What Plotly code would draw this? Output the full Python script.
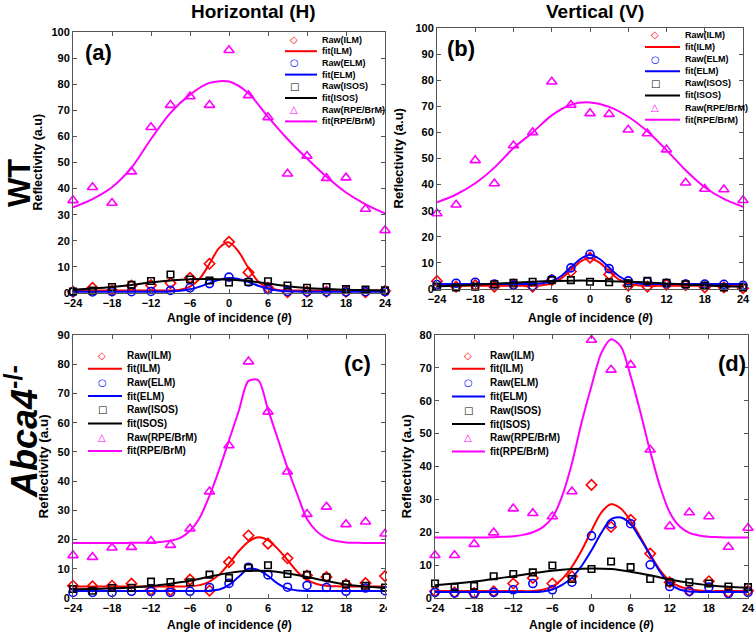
import plotly.graph_objects as go

W, H = 755, 633

# ---------------- data ----------------
ANGLES = [-24, -21, -18, -15, -12, -9, -6, -3, 0, 3, 6, 9, 12, 15, 18, 21, 24]
FINE_ANGLES = [-24, -22.5, -21, -19.5, -18, -16.5, -15, -13.5, -12, -10.5, -9, -7.5, -6, -4.5,
               -3, -1.5, 0, 1.5, 3, 4.5, 6, 7.5, 9, 10.5, 12, 13.5, 15, 16.5, 18, 19.5, 21, 22.5, 24]
X_TICKS = [-24, -18, -12, -6, 0, 6, 12, 18, 24]
LEGEND_LABELS = ["Raw(ILM)", "fit(ILM)", "Raw(ELM)", "fit(ELM)",
                 "Raw(ISOS)", "fit(ISOS)", "Raw(RPE/BrM)", "fit(RPE/BrM)"]

# (a) WT, Horizontal
A_RAW_ILM = [0.5, 2.0, 1.0, 2.8, 3.0, 3.8, 5.8, 11.2, 19.6, 7.9, 2.0, 0.3, 0.5, 0.5, 0.5, 0.3, 0.8]
A_RAW_ELM = [0.4, 0.4, 0.5, 0.5, 0.6, 1.0, 2.0, 3.6, 6.1, 4.2, 1.3, 0.6, 0.4, 0.4, 0.4, 0.5, 0.5]
A_RAW_ISOS = [0.6, 0.9, 2.3, 3.1, 4.6, 7.1, 5.2, 4.8, 4.0, 4.2, 4.5, 2.9, 2.0, 2.3, 1.5, 1.3, 1.0]
A_RAW_RPE = [35.5, 40.5, 34.5, 46.5, 63.5, 72.0, 75.3, 72.0, 93.0, 75.7, 67.3, 45.7, 52.5, 44.0, 44.2, 32.2, 24.0]
A_FIT_ILM = [1.0, 1.0, 1.0, 1.0, 1.0, 1.0, 1.0, 1.0, 1.0, 1.0, 1.0, 1.3, 2.4, 5.5, 11.2, 17.3, 19.4,
             15.8, 9.5, 4.4, 2.0, 1.2, 1.0, 1.0, 1.0, 1.0, 1.0, 1.0, 1.0, 1.0, 1.0, 1.0, 1.0]
A_FIT_ELM = [0.5, 0.5, 0.5, 0.5, 0.5, 0.5, 0.5, 0.5, 0.5, 0.5, 0.62, 0.87, 1.4, 2.45, 3.8, 5.08, 5.7,
             5.33, 4.2, 2.79, 1.66, 0.99, 0.67, 0.55, 0.5, 0.5, 0.5, 0.5, 0.5, 0.5, 0.5, 0.5, 0.5]
A_FIT_ISOS = [1.2, 1.7, 2.3, 3.1, 4.1, 4.8, 5.3, 5.4, 5.1, 4.6, 3.6, 2.6, 1.9, 1.5, 1.2, 1.1, 1.0]
A_FIT_RPE = [32.8, 36.0, 40.5, 48.0, 59.0, 69.0, 76.0, 80.5, 81.0, 76.5, 67.5, 59.0, 51.5, 44.5, 38.5, 34.0, 30.5]

# (b) WT, Vertical
B_RAW_ILM = [3.0, 0.9, 1.5, 0.9, 1.8, 0.9, 3.4, 6.7, 12.0, 5.6, 1.3, 0.9, 1.7, 1.5, 0.6, 0.6, 0.3]
B_RAW_ELM = [1.7, 2.2, 2.6, 1.9, 1.5, 1.2, 3.7, 8.1, 13.3, 7.8, 3.1, 2.8, 2.2, 1.9, 1.9, 1.8, 1.4]
B_RAW_ISOS = [0.9, 0.6, 0.9, 1.8, 2.4, 2.8, 3.4, 3.4, 2.8, 2.6, 2.2, 3.1, 2.4, 1.8, 1.3, 0.6, 0.6]
B_RAW_RPE = [28.9, 32.3, 49.3, 40.4, 55.0, 60.0, 79.4, 70.5, 67.3, 67.0, 61.0, 59.6, 53.4, 40.7, 38.3, 38.1, 34.0]
B_FIT_ILM = [1.2, 1.2, 1.2, 1.2, 1.2, 1.2, 1.2, 1.2, 1.2, 1.2, 1.2, 1.47, 2.2, 4.1, 7.2, 10.5, 11.8,
             10.1, 6.8, 3.7, 2.1, 1.4, 1.2, 1.2, 1.2, 1.2, 1.2, 1.2, 1.2, 1.2, 1.2, 1.2, 1.2]
B_FIT_ELM = [1.9, 1.9, 1.9, 1.9, 1.9, 1.9, 1.9, 1.9, 1.9, 1.9, 1.9, 2.2, 3.05, 5.0, 8.2, 11.5, 13.0,
             11.5, 8.2, 5.0, 3.05, 2.2, 1.9, 1.9, 1.9, 1.9, 1.9, 1.9, 1.9, 1.9, 1.9, 1.9, 1.9]
B_FIT_ISOS = [1.0, 1.3, 1.6, 2.0, 2.4, 2.8, 3.1, 3.2, 3.2, 3.0, 2.8, 2.5, 2.1, 1.7, 1.4, 1.1, 0.9]
B_FIT_RPE = [33.2, 36.2, 40.5, 46.5, 54.0, 60.0, 66.5, 70.6, 71.5, 69.8, 66.0, 60.4, 53.2, 45.5, 39.0, 34.5, 31.5]

# (c) Abca4-/-, Horizontal
C_RAW_ILM = [4.2, 4.0, 4.2, 4.9, 2.8, 2.6, 6.3, 2.5, 12.3, 21.4, 18.6, 13.6, 7.7, 7.2, 4.7, 5.1, 7.5]
C_RAW_ELM = [1.9, 1.9, 1.9, 2.3, 2.2, 1.9, 2.3, 3.6, 5.0, 10.5, 7.9, 3.7, 4.3, 3.6, 2.3, 3.4, 2.5]
C_RAW_ISOS = [3.1, 2.5, 3.4, 3.5, 5.6, 5.5, 5.4, 8.0, 6.9, 10.3, 11.2, 8.2, 7.9, 7.1, 4.7, 4.2, 3.6]
C_RAW_RPE = [14.6, 14.0, 17.2, 17.4, 19.5, 18.1, 23.7, 36.4, 52.2, 80.9, 63.7, 43.2, 28.7, 31.2, 25.2, 26.1, 22.0]
C_FIT_ILM = [3.9, 3.9, 3.9, 3.9, 3.9, 3.9, 3.9, 3.9, 3.9, 3.9, 3.9, 3.95, 4.05, 4.4, 5.6, 8.0, 11.8,
             16.0, 19.3, 20.8, 19.8, 16.8, 13.0, 9.0, 6.2, 4.8, 4.2, 4.0, 3.9, 3.9, 3.9, 3.9, 3.9]
C_FIT_ELM = [2.4, 2.4, 2.4, 2.4, 2.4, 2.4, 2.4, 2.4, 2.4, 2.4, 2.4, 2.4, 2.4, 2.4, 2.5, 2.9, 4.5,
             7.3, 10.0, 9.6, 7.6, 4.9, 3.2, 2.6, 2.4, 2.4, 2.4, 2.4, 2.4, 2.4, 2.4, 2.4, 2.4]
C_FIT_ISOS = [3.0, 3.1, 3.3, 3.6, 4.1, 4.9, 5.9, 7.3, 8.6, 9.3, 9.2, 8.4, 7.2, 5.8, 4.6, 3.9, 3.4]
C_FIT_RPE = [18.8, 18.8, 18.8, 18.8, 18.8, 18.8, 18.9, 18.9, 19.0, 19.2, 19.6, 20.6, 23.0, 27.5, 35.0, 44.0, 54.0,
             64.0, 74.3, 74.5, 64.5, 54.5, 44.5, 35.5, 27.0, 22.8, 20.5, 19.5, 19.0, 18.9, 18.8, 18.8, 18.8]

# (d) Abca4-/-, Vertical
D_RAW_ILM = [2.0, 1.7, 1.5, 2.0, 4.4, 6.1, 4.4, 6.6, 34.4, 21.6, 23.8, 13.5, 4.8, 2.2, 5.1, 1.7, 2.2]
D_RAW_ELM = [1.7, 1.5, 1.2, 1.7, 2.5, 4.4, 2.5, 4.8, 18.9, 22.5, 22.6, 10.1, 3.5, 2.0, 3.3, 1.3, 1.7]
D_RAW_ISOS = [4.4, 3.3, 3.7, 6.6, 7.3, 7.8, 9.9, 5.8, 8.8, 11.1, 9.4, 5.8, 4.8, 4.8, 4.4, 3.5, 3.3]
D_RAW_RPE = [13.0, 13.0, 16.4, 19.9, 27.2, 25.8, 24.8, 32.4, 78.5, 69.4, 70.9, 45.1, 21.8, 26.0, 24.8, 15.5, 21.3]
D_FIT_ILM = [2.1, 2.1, 2.1, 2.1, 2.1, 2.1, 2.1, 2.1, 2.1, 2.1, 2.1, 2.5, 3.5, 5.8, 9.5, 14.5, 20.5,
             26.0, 28.5, 27.2, 23.5, 18.5, 13.2, 8.5, 5.2, 3.5, 2.7, 2.3, 2.1, 2.1, 2.1, 2.1, 2.1]
D_FIT_ELM = [1.8, 1.8, 1.8, 1.8, 1.8, 1.8, 1.8, 1.8, 1.8, 1.8, 1.8, 2.0, 2.6, 4.0, 6.2, 9.8, 14.5,
             19.8, 24.0, 24.5, 22.5, 18.0, 13.0, 8.0, 4.3, 2.6, 2.0, 1.85, 1.8, 1.8, 1.8, 1.8, 1.8]
D_FIT_ISOS = [3.9, 4.4, 5.0, 5.8, 6.6, 7.5, 8.3, 8.8, 9.0, 8.8, 8.0, 6.9, 5.6, 4.6, 3.9, 3.4, 3.1]
D_FIT_RPE = [18.4, 18.4, 18.4, 18.4, 18.4, 18.4, 18.5, 18.6, 18.8, 19.2, 20.0, 21.5, 24.5, 31.0, 41.0, 53.5, 64.5,
             74.5, 78.7, 76.5, 67.5, 56.5, 44.6, 34.0, 26.0, 21.8, 19.8, 19.0, 18.6, 18.5, 18.4, 18.4, 18.4]

# ---------------- styling ----------------
RED, BLUE, BLACK, MAG = "#ff0000", "#0000ff", "#000000", "#ff00ff"
AX = "#555555"
FONT = "Liberation Sans, Arial, sans-serif"


def fx(p):
    return p / W


def fy(p):
    return 1 - p / H


panels = [
    dict(x0=73, x1=385, y0=32, y1=293, ymax=100,
         raw=[A_RAW_ILM, A_RAW_ELM, A_RAW_ISOS, A_RAW_RPE],
         fit=[(FINE_ANGLES, A_FIT_ILM), (FINE_ANGLES, A_FIT_ELM), (ANGLES, A_FIT_ISOS), (ANGLES, A_FIT_RPE)],
         tag="(a)", tagpos=(99, 52),
         leg=dict(mx=294, lx0=285, lx1=317, tx=320, y0=39.5, dy=11.7, fs=9),
         ytitle_x=37, xtitle_y=318, ytf=12.5),
    dict(x0=437, x1=743, y0=28, y1=289, ymax=100,
         raw=[B_RAW_ILM, B_RAW_ELM, B_RAW_ISOS, B_RAW_RPE],
         fit=[(FINE_ANGLES, B_FIT_ILM), (FINE_ANGLES, B_FIT_ELM), (ANGLES, B_FIT_ISOS), (ANGLES, B_FIT_RPE)],
         tag="(b)", tagpos=(461, 48),
         leg=dict(mx=655, lx0=645, lx1=680, tx=683, y0=35, dy=12.1, fs=9),
         ytitle_x=398, xtitle_y=318, ytf=13),
    dict(x0=73, x1=385, y0=335, y1=598, ymax=90,
         raw=[C_RAW_ILM, C_RAW_ELM, C_RAW_ISOS, C_RAW_RPE],
         fit=[(FINE_ANGLES, C_FIT_ILM), (FINE_ANGLES, C_FIT_ELM), (ANGLES, C_FIT_ISOS), (FINE_ANGLES, C_FIT_RPE)],
         tag="(c)", tagpos=(357, 363),
         leg=dict(mx=102, lx0=88, lx1=122, tx=125, y0=355, dy=13.7, fs=10),
         ytitle_x=43, xtitle_y=625, ytf=13.5),
    dict(x0=435, x1=748, y0=335, y1=598, ymax=80,
         raw=[D_RAW_ILM, D_RAW_ELM, D_RAW_ISOS, D_RAW_RPE],
         fit=[(FINE_ANGLES, D_FIT_ILM), (FINE_ANGLES, D_FIT_ELM), (ANGLES, D_FIT_ISOS), (FINE_ANGLES, D_FIT_RPE)],
         tag="(d)", tagpos=(732, 363),
         leg=dict(mx=468, lx0=452, lx1=485, tx=488, y0=355, dy=13.8, fs=10),
         ytitle_x=406, xtitle_y=625, ytf=13.5),
]

COLORS = [RED, BLUE, BLACK, MAG]
SYMBOLS = ["diamond-open", "circle-open", "square-open", "triangle-up-open"]
SIZES = [8, 8, 6.5, 9]
GLYPHS = ["\u25C7", "\u25CB", "\u25A1", "\u25B3"]

fig = go.Figure()
layout = dict(width=W, height=H, margin=dict(l=0, r=0, t=0, b=0, autoexpand=False),
              paper_bgcolor="white", plot_bgcolor="white", showlegend=False)
annotations = []
shapes = []

tickfont = dict(family=FONT, size=11, color="black", weight="bold")

for i, P in enumerate(panels):
    n = "" if i == 0 else str(i + 1)
    xa, ya = "x" + n, "y" + n
    for k in range(4):
        fxv, fyv = P["fit"][k]
        fig.add_trace(go.Scatter(
            x=ANGLES, y=P["raw"][k], mode="markers", xaxis=xa, yaxis=ya, cliponaxis=False,
            marker=dict(symbol=SYMBOLS[k], size=SIZES[k], color=COLORS[k],
                        line=dict(width=1.6, color=COLORS[k])),
            name=LEGEND_LABELS[2 * k]))
        fig.add_trace(go.Scatter(
            x=fxv, y=fyv, mode="lines", xaxis=xa, yaxis=ya,
            line=dict(color=COLORS[k], width=2, shape="spline", smoothing=0.8),
            name=LEGEND_LABELS[2 * k + 1]))
    layout["xaxis" + n] = dict(
        domain=[fx(P["x0"]), fx(P["x1"])], range=[-24, 24], anchor=ya, automargin=False,
        tickmode="array", tickvals=X_TICKS, ticks="inside", ticklen=4, tickwidth=1,
        showline=True, mirror="ticks", linecolor=AX, tickcolor=AX, linewidth=1,
        showgrid=False, zeroline=False, tickfont=tickfont)
    layout["yaxis" + n] = dict(
        domain=[fy(P["y1"]), fy(P["y0"])], range=[0, P["ymax"]], anchor=xa, automargin=False,
        dtick=10, tick0=0, ticks="inside", ticklen=4, tickwidth=1,
        showline=True, mirror="ticks", linecolor=AX, tickcolor=AX, linewidth=1,
        showgrid=False, zeroline=False, tickfont=tickfont)

    # panel tag
    annotations.append(dict(text="<b>" + P["tag"] + "</b>", x=fx(P["tagpos"][0]), y=fy(P["tagpos"][1]),
                            xref="paper", yref="paper", showarrow=False, xanchor="center", yanchor="middle",
                            font=dict(family=FONT, size=22, color="black")))
    # axis titles
    annotations.append(dict(text="<b>Angle of incidence (<i>θ</i>)</b>",
                            x=fx((P["x0"] + P["x1"]) / 2), y=fy(P["xtitle_y"]),
                            xref="paper", yref="paper", showarrow=False, xanchor="center", yanchor="middle",
                            font=dict(family=FONT, size=12, color="black")))
    annotations.append(dict(text="<b>Reflectivity (a.u)</b>", textangle=-90,
                            x=fx(P["ytitle_x"]), y=fy((P["y0"] + P["y1"]) / 2),
                            xref="paper", yref="paper", showarrow=False, xanchor="center", yanchor="middle",
                            font=dict(family=FONT, size=P["ytf"], color="black")))
    # manual legend
    L = P["leg"]
    for r, lab in enumerate(LEGEND_LABELS):
        yy = L["y0"] + r * L["dy"]
        k = r // 2
        if r % 2 == 0:
            annotations.append(dict(text=GLYPHS[k], x=fx(L["mx"]), y=fy(yy), xref="paper", yref="paper",
                                    showarrow=False, xanchor="center", yanchor="middle",
                                    font=dict(family="DejaVu Sans", size=10, color=COLORS[k], weight="bold")))
        else:
            shapes.append(dict(type="line", xref="paper", yref="paper",
                               x0=fx(L["lx0"]), x1=fx(L["lx1"]), y0=fy(yy), y1=fy(yy),
                               line=dict(color=COLORS[k], width=2)))
        annotations.append(dict(text="<b>" + lab + "</b>", x=fx(L["tx"]), y=fy(yy), xref="paper", yref="paper",
                                showarrow=False, xanchor="left", yanchor="middle",
                                font=dict(family=FONT, size=L["fs"], color="black")))

# the neighbouring image hides the right edge of panel (c)
shapes.append(dict(type="rect", xref="paper", yref="paper", layer="above",
                   x0=fx(387), x1=fx(396), y0=fy(633), y1=fy(330),
                   fillcolor="white", line=dict(width=0)))

# column / row headers
annotations.append(dict(text="<b>Horizontal (H)</b>", x=fx(253), y=fy(12), xref="paper", yref="paper",
                        showarrow=False, xanchor="center", yanchor="middle",
                        font=dict(family=FONT, size=19, color="black")))
annotations.append(dict(text="<b>Vertical (V)</b>", x=fx(595), y=fy(12), xref="paper", yref="paper",
                        showarrow=False, xanchor="center", yanchor="middle",
                        font=dict(family=FONT, size=19, color="black")))
annotations.append(dict(text="<b>WT</b>", textangle=-90, x=fx(19), y=fy(183), xref="paper", yref="paper",
                        showarrow=False, xanchor="center", yanchor="middle",
                        font=dict(family=FONT, size=31, color="black")))
annotations.append(dict(text="<b><i>Abca4</i><sup>-/-</sup></b>", textangle=-90, x=fx(22), y=fy(432),
                        xref="paper", yref="paper", showarrow=False, xanchor="center", yanchor="middle",
                        font=dict(family=FONT, size=36, color="black")))

layout["annotations"] = annotations
layout["shapes"] = shapes
fig.update_layout(**layout)
fig.write_html("out.html", config={"displayModeBar": False},
               post_script="document.body.style.margin='0';document.body.style.overflow='hidden';")
